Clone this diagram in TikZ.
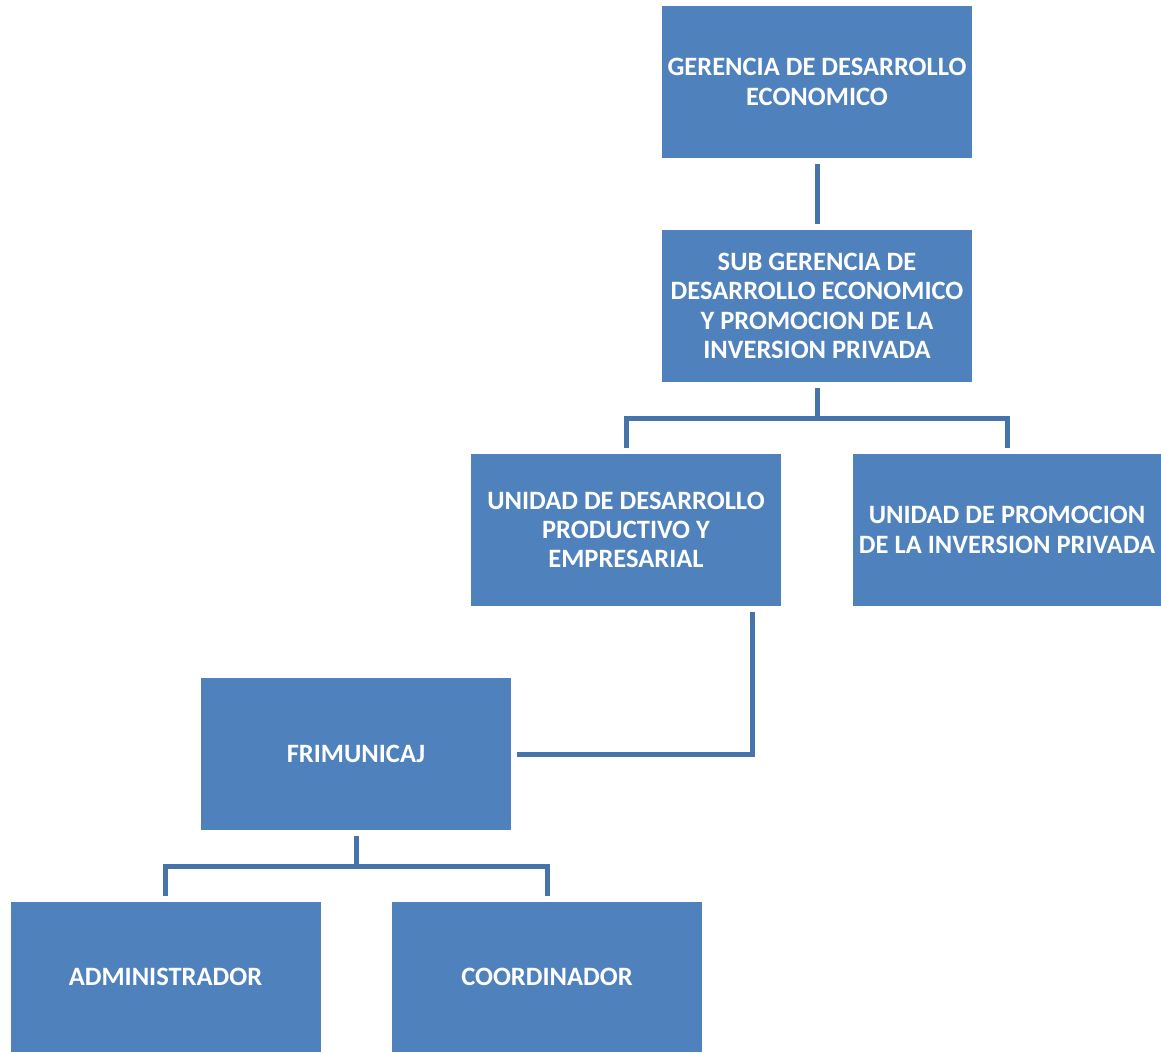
\documentclass[tikz,border=0pt]{standalone}
\usepackage{fontspec}
\setmainfont{Carlito}
\usetikzlibrary{positioning,calc}
\definecolor{boxblue}{HTML}{4F81BD}
\definecolor{lineblue}{HTML}{4673AA}
\begin{document}
\begin{tikzpicture}[x=1pt,y=-1pt,
    every node/.style={rectangle,fill=boxblue,text=white,inner sep=0pt,
      minimum width=310pt,minimum height=152pt,align=center,
      font=\fontsize{26.5}{29.3}\selectfont\bfseries},
    link/.style={draw=lineblue,line width=5pt,shorten <=6pt,shorten >=6pt}]
    \useasboundingbox (0,0) rectangle (1161,1052);
    \node at (817,82) (ger) {GERENCIA DE DESARROLLO\\ECONOMICO};
    \node at (817,306) (sub) {SUB GERENCIA DE\\DESARROLLO ECONOMICO\\Y PROMOCION DE LA\\INVERSION PRIVADA};
    \node at (626,530) (udp) {UNIDAD DE DESARROLLO\\PRODUCTIVO Y\\EMPRESARIAL};
    \node[minimum width=308pt] at (1007,530) (upi) {UNIDAD DE PROMOCION\\DE LA INVERSION PRIVADA};
    \node at (356,754) (fri) {FRIMUNICAJ};
    \node[minimum height=150pt] at (165.5,977) (adm) {ADMINISTRADOR};
    \node[minimum height=150pt] at (547,977) (coo) {COORDINADOR};

    % connections
    \draw[link] (ger) -- (sub);
    \draw[link] (sub.south) -- ++(0,36) -| (udp.north);
    \draw[link] (sub.south) -- ++(0,36) -| (upi.north);
    \draw[link] ([xshift=-29pt]udp.south east) |- (fri.east);
    \draw[link] (fri.south) -- ++(0,36) -| (adm.north);
    \draw[link] (fri.south) -- ++(0,36) -| (coo.north);
\end{tikzpicture}
\end{document}
